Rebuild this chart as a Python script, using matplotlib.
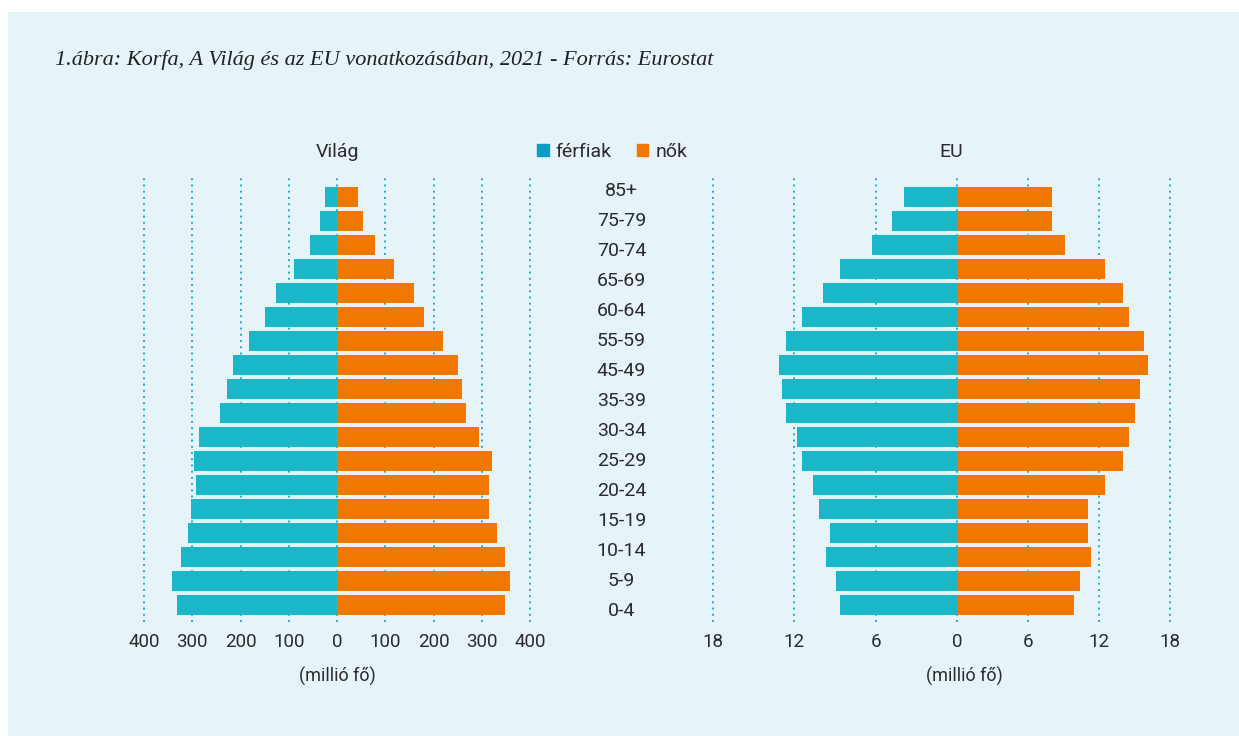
import numpy as np
import matplotlib
matplotlib.use('Agg')
import matplotlib.pyplot as plt
from matplotlib.patches import Patch, Rectangle

# data, listed from the youngest group (bottom) to the oldest (top)
world_men = [331, 341, 324, 308, 302, 293, 297, 287, 243, 229, 216, 183, 150, 127, 89, 56, 35, 25]
world_women = [349, 358, 349, 331, 314, 314, 322, 295, 268, 260, 250, 220, 181, 160, 119, 79, 54, 44]
eu_men = [8.6, 8.9, 9.7, 9.4, 10.2, 10.6, 11.4, 11.8, 12.6, 12.9, 13.1, 12.6, 11.4, 9.9, 8.6, 6.3, 4.8, 3.9]
eu_women = [9.9, 10.4, 11.3, 11.1, 11.1, 12.5, 14.0, 14.5, 15.0, 15.5, 16.1, 15.8, 14.5, 14.0, 12.5, 9.1, 8.0, 8.0]
age_labels = ['0-4', '5-9', '10-14', '15-19', '20-24', '25-29', '30-34', '35-39',
              '45-49', '55-59', '60-64', '65-69', '70-74', '75-79', '85+']
world_ticks = [-400, -300, -200, -100, 0, 100, 200, 300, 400]
eu_ticks_left = [-18, -12, -6, 0]
eu_ticks_right = [6, 12, 18]

title = '1.ábra: Korfa, A Világ és az EU vonatkozásában, 2021 - Forrás: Eurostat'

BG = '#E6F3F8'
MEN = '#19B7C7'
WOMEN = '#F07800'
GRID = '#1AAFD0'
TXT = '#2b2b2b'

plt.rcParams['font.family'] = ['Roboto', 'DejaVu Sans']

W, H = 1239, 736
fig = plt.figure(figsize=(W / 100, H / 100), dpi=100, facecolor='white')
fig.patches.append(Rectangle((8 / W, 0), 1, 1 - 12 / H, transform=fig.transFigure,
                             facecolor=BG, edgecolor='none', zorder=-10))


def px_axes(x0, x1, y0=178, y1=622):
    return fig.add_axes([x0 / W, (H - y1) / H, (x1 - x0) / W, (y1 - y0) / H])


n = len(world_men)
y = np.arange(n)
ylim = (-(622 - 605) / 24, n - 1 + (197 - 178) / 24)
bar_h = 20 / 24


def style(ax, xlim, ticks, labels):
    ax.set_xlim(*xlim)
    ax.set_ylim(*ylim)
    ax.patch.set_visible(False)
    for s in ax.spines.values():
        s.set_visible(False)
    ax.set_yticks([])
    ax.set_xticks(ticks)
    ax.set_xticklabels(labels)
    ax.tick_params(axis='x', length=0, pad=8, labelsize=13.5, labelcolor=TXT)
    for t in ticks:
        ax.axvline(t, color=GRID, lw=1.4, ls=(0, (1, 2.2)), zorder=0, clip_on=False)


# World
axw = px_axes(144, 530)
axw.barh(y, [-v for v in world_men], height=bar_h, color=MEN, zorder=2)
axw.barh(y, world_women, height=bar_h, color=WOMEN, zorder=2)
style(axw, (-400, 400), world_ticks, [str(abs(t)) for t in world_ticks])

# EU, the two halves have different scales
axl = px_axes(713, 957)
axl.barh(y, [-v for v in eu_men], height=bar_h, color=MEN, zorder=2)
style(axl, (-18, 0), eu_ticks_left, [str(abs(t)) for t in eu_ticks_left])

axr = px_axes(957, 1170)
axr.barh(y, eu_women, height=bar_h, color=WOMEN, zorder=2)
style(axr, (0, 18), eu_ticks_right, [str(t) for t in eu_ticks_right])

# age labels in the middle
axm = px_axes(530, 713)
axm.set_axis_off()
axm.set_xlim(0, 1)
axm.set_ylim(-(622 - 611) / 30, (611 - 178) / 30)
for k, lab in enumerate(age_labels):
    axm.text(0.5, k, lab, ha='center', va='center', fontsize=14, color=TXT)

# headings
fig.text(337 / W, 1 - 152 / H, 'Világ', ha='center', va='center', fontsize=14, color=TXT)
fig.text(951 / W, 1 - 152 / H, 'EU', ha='center', va='center', fontsize=14, color=TXT)
fig.text(337 / W, 1 - 676 / H, '(millió fő)', ha='center', va='center', fontsize=13, color=TXT)
fig.text(964 / W, 1 - 676 / H, '(millió fő)', ha='center', va='center', fontsize=13, color=TXT)

fig.legend(handles=[Patch(color='#0A9EC4', label='férfiak'), Patch(color=WOMEN, label='nők')],
           loc='center', bbox_to_anchor=(612 / W, 1 - 152 / H), ncol=2, frameon=False,
           fontsize=14, handlelength=0.6, handleheight=0.6, handletextpad=0.35,
           columnspacing=1.3, labelcolor=TXT)

fig.text(55 / W, 1 - 60 / H, title, ha='left', va='center', fontsize=16,
         style='italic', family=['Liberation Serif', 'DejaVu Serif'], color='#222222')

fig.savefig('out.png', dpi=100, facecolor=fig.get_facecolor())
